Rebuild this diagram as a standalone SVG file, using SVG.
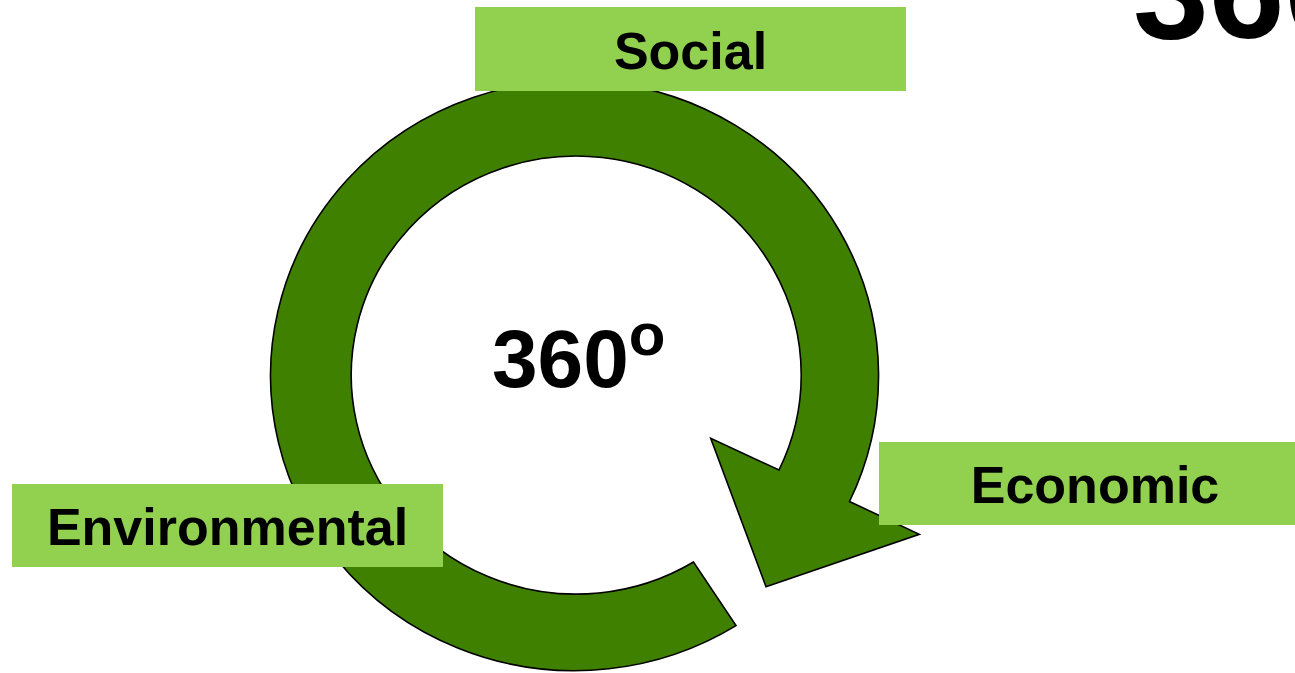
<svg xmlns="http://www.w3.org/2000/svg" width="1295" height="673" viewBox="0 0 1295 673">
  <style>
    .box { fill: #92D050; }
    .lbl { font-family: "Liberation Sans", Arial, sans-serif; font-weight: bold; font-size: 52px; fill: #000; text-anchor: middle; }
    .big { font-family: "Liberation Sans", Arial, sans-serif; font-weight: bold; fill: #000; }
    .band { fill: #408000; stroke: #000; stroke-width: 1.6; stroke-linejoin: miter; }
  </style>
  <rect width="1295" height="673" fill="#ffffff"/>
  <text class="big" x="1133" y="38" font-size="136">360</text>
  <g id="connectors">
    <path class="band" d="M 736 625.6 A 304 295 0 1 1 849.5 501.5 L 919.3 534.3 L 766 586.7 L 710.7 438.3 L 779 470 A 225 219 0 1 0 693.5 562 Z"/>
  </g>
  <g id="center">
    <text class="big" x="492" y="387" font-size="82">360<tspan font-size="60" dy="-32">o</tspan></text>
  </g>
  <g id="social">
    <rect class="box" x="475" y="7" width="431" height="84"/>
    <text class="lbl" x="690.5" y="69">Social</text>
  </g>
  <g id="environmental">
    <rect class="box" x="12" y="484" width="431" height="83"/>
    <text class="lbl" x="227.5" y="545">Environmental</text>
  </g>
  <g id="economic">
    <rect class="box" x="879" y="442" width="432" height="83"/>
    <text class="lbl" x="1095" y="502.5">Economic</text>
  </g>
</svg>
